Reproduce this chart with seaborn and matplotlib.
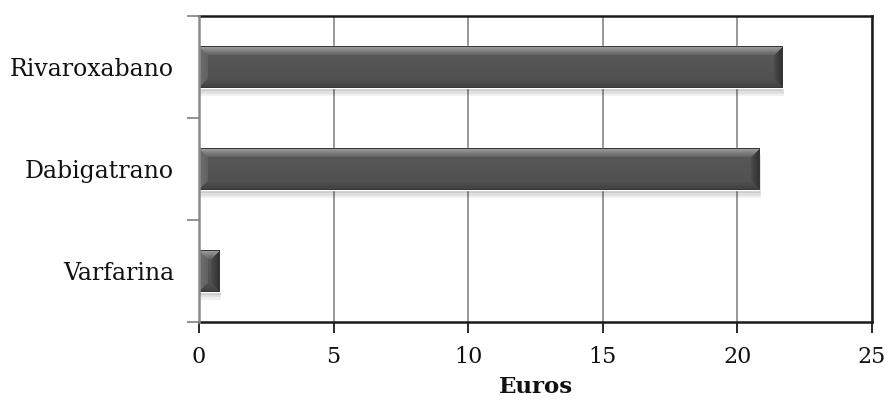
import numpy as np
import pandas as pd
import matplotlib
matplotlib.use("Agg")
import matplotlib.pyplot as plt
import matplotlib.patheffects as pe
from matplotlib.ticker import FixedLocator
import seaborn as sns

# Cost per drug (euros)
drugs = ["Rivaroxabano", "Dabigatrano", "Varfarina"]
costs = [21.68, 20.82, 0.78]
x_ticks = [0, 5, 10, 15, 20, 25]

sns.set_theme(style="white")
plt.rcParams["font.family"] = ["DejaVu Serif"]

df = pd.DataFrame({"drug": drugs, "cost": costs})

fig = plt.figure(figsize=(8.88, 4.03), dpi=100)
ax = fig.add_axes([0.2241, 0.201, 0.7579, 0.759])

sns.barplot(data=df, x="cost", y="drug", orient="h", color="#575757",
            width=0.41, saturation=1, ax=ax, zorder=3)

ax.set_xlim(0, 25)
ax.set_ylim(2.5, -0.5)

# grid and frame
ax.set_xticks(x_ticks)
ax.grid(axis="x", color="#8f8f8f", linewidth=1.3, zorder=0)
ax.grid(axis="y", visible=False)
for side in ["top", "right", "bottom"]:
    ax.spines[side].set_color("#1a1a1a")
    ax.spines[side].set_linewidth(1.8)
    ax.spines[side].set_visible(True)
ax.spines["left"].set_color("#8a8a8a")
ax.spines["left"].set_linewidth(1.8)
ax.spines["left"].set_zorder(4)

ax.tick_params(axis="x", direction="out", length=8, width=1.3, color="#1a1a1a",
               labelsize=16, pad=9, bottom=True, labelcolor="#111111")
ax.tick_params(axis="y", which="major", length=0, pad=18, labelsize=17,
               labelcolor="#111111", left=False)
ax.yaxis.set_minor_locator(FixedLocator([-0.5, 0.5, 1.5, 2.5]))
ax.tick_params(axis="y", which="minor", direction="out", length=9, width=1.3,
               color="#8a8a8a", left=True)

ax.set_ylabel("")
ax.set_xlabel("Euros", fontsize=16.5, fontweight="bold", color="#111111", labelpad=6)

# bevelled shading for each bar, clipped to the bar outline
fig.canvas.draw()
inv = ax.transData.inverted()
bevel_px = 9.0
for patch in ax.patches:
    patch.set_path_effects([
        pe.SimplePatchShadow(offset=(1, -6), shadow_rgbFace="k", alpha=0.06),
        pe.SimplePatchShadow(offset=(1, -4), shadow_rgbFace="k", alpha=0.08),
        pe.SimplePatchShadow(offset=(0.5, -2), shadow_rgbFace="k", alpha=0.10),
        pe.Normal(),
    ])
    bb = patch.get_window_extent()
    nx = max(int(round(bb.width)), 2)
    ny = max(int(round(bb.height)), 2)
    yy, xx = np.mgrid[0:ny, 0:nx] + 0.5
    d_top = yy
    d_bot = ny - yy
    d_left = xx
    d_right = nx - xx
    dists = np.stack([d_top, d_bot, d_left, d_right])
    face = np.argmin(dists, axis=0)
    dmin = np.min(dists, axis=0)
    b = min(bevel_px, ny / 2, nx / 2)
    t = np.clip(dmin / b, 0, 1)

    center = 0.35
    shade = np.full((ny, nx), center)
    # vertical soft gradient in the flat face
    shade = shade - 0.04 * (yy / ny)
    top_col = 0.64 - 0.26 * t
    bot_col = 0.25 + 0.07 * t
    left_col = 0.44 - 0.06 * t
    right_col = 0.18 + 0.12 * t
    inside = dmin < b
    shade = np.where(inside & (face == 0), top_col, shade)
    shade = np.where(inside & (face == 1), bot_col, shade)
    shade = np.where(inside & (face == 2), left_col, shade)
    shade = np.where(inside & (face == 3), right_col, shade)
    # thin dark rim
    rim = dmin < 1.0
    shade = np.where(rim, 0.22, shade)

    img = np.dstack([shade, shade, shade])
    (x0d, y_top_d) = inv.transform((bb.x0, bb.y1))
    (x1d, y_bot_d) = inv.transform((bb.x1, bb.y0))
    im = ax.imshow(img, extent=(x0d, x1d, y_bot_d, y_top_d), origin="upper",
                   aspect="auto", interpolation="bilinear", zorder=3.5)
    im.set_clip_path(patch)

ax.set_xlim(0, 25)
ax.set_ylim(2.5, -0.5)

fig.savefig("out.png", dpi=100, facecolor="white")
